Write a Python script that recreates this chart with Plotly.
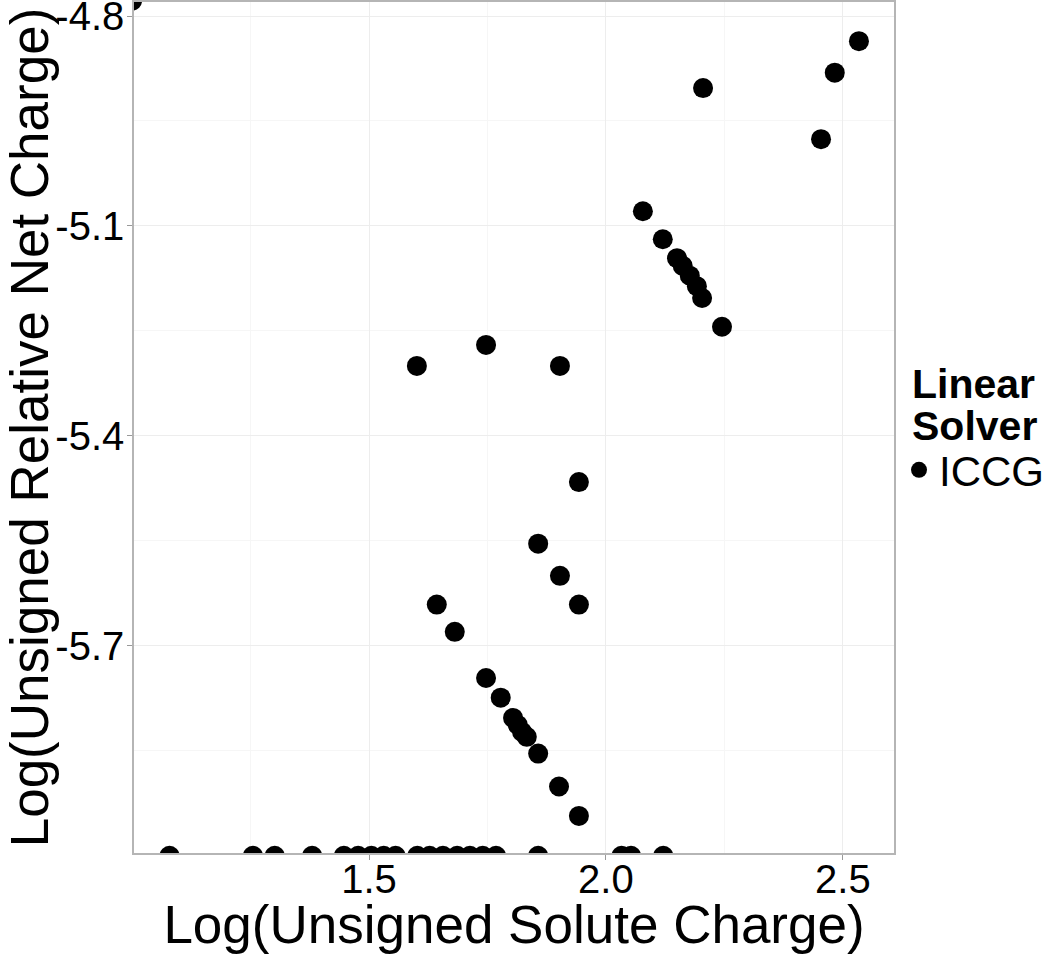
import plotly.graph_objects as go

# log10 of unsigned solute charge vs log10 of unsigned relative net charge
solute_charge = [
    1.0,
    2.534, 2.483, 2.205, 2.454,
    2.078, 2.120, 2.150, 2.162, 2.177, 2.192, 2.203, 2.245,
    1.601, 1.747, 1.903,
    1.943, 1.857, 1.903, 1.943,
    1.643, 1.681,
    1.747, 1.778, 1.804, 1.814, 1.823, 1.833, 1.857, 1.901, 1.943,
    1.079, 1.255, 1.301, 1.380, 1.447, 1.477, 1.505, 1.531, 1.556,
    1.602, 1.628, 1.656, 1.686, 1.713, 1.740, 1.768, 1.857,
    2.033, 2.053, 2.121,
]
relative_net_charge = [
    -4.778,
    -4.836, -4.881, -4.903, -4.976,
    -5.079, -5.119, -5.146, -5.157, -5.171, -5.186, -5.203, -5.244,
    -5.300, -5.270, -5.300,
    -5.466, -5.554, -5.600, -5.641,
    -5.641, -5.680,
    -5.746, -5.774, -5.803, -5.813, -5.823, -5.830, -5.854, -5.901, -5.943,
    -6.0, -6.0, -6.0, -6.0, -6.0, -6.0, -6.0, -6.0, -6.0,
    -6.0, -6.0, -6.0, -6.0, -6.0, -6.0, -6.0, -6.0,
    -6.0, -6.0, -6.0,
]

x_ticks = [1.5, 2.0, 2.5]
y_ticks = [-4.8, -5.1, -5.4, -5.7]
legend_title = ["Linear", "Solver"]

_FONT = "Liberation Sans, Arial, Helvetica, sans-serif"

fig = go.Figure()
fig.add_scatter(
    x=solute_charge, y=relative_net_charge, mode="markers", name="ICCG",
    marker=dict(color="black", size=20, line=dict(width=0)),
)

axis_common = dict(
    showline=True, linecolor="#b5b5b5", linewidth=1.5, mirror=True,
    ticks="outside", ticklen=5, tickcolor="#999999",
    gridcolor="#ededed", gridwidth=1, zeroline=False,
    tickfont=dict(size=40, color="black"),
    automargin=False, ticklabeloverflow="allow",
)
fig.update_xaxes(
    range=[1.004, 2.608], tickvals=x_ticks, ticktext=["1.5", "2.0", "2.5"],
    minor=dict(dtick=0.25, tick0=1.0, showgrid=True, gridcolor="#f6f6f6", ticks=""),
    title=dict(text="Log(Unsigned Solute Charge)", font=dict(size=53, color="black"), standoff=2),
    ticklabelstandoff=-15,
    **axis_common,
)
fig.update_yaxes(
    range=[-5.996, -4.78], tickvals=y_ticks, ticktext=["-4.8", "-5.1", "-5.4", "-5.7"],
    minor=dict(dtick=0.15, tick0=-4.8, showgrid=True, gridcolor="#f6f6f6", ticks=""),
    title=dict(text="Log(Unsigned Relative Net Charge)", font=dict(size=53, color="black"), standoff=0),
    ticklabelstandoff=-5,
    **axis_common,
)

# legend title drawn as two tight lines, like the ggplot guide title
for txt, ypos in zip(legend_title, [0.5511, 0.5018]):
    fig.add_annotation(
        text=f"<b>{txt}</b>", xref="paper", yref="paper", x=1.021, y=ypos,
        xanchor="left", yanchor="middle", showarrow=False,
        font=dict(size=41, color="black"),
    )

fig.update_layout(
    width=1050, height=954,
    margin=dict(l=134, r=156, t=2, b=101, autoexpand=False),
    paper_bgcolor="white", plot_bgcolor="white",
    font=dict(family=_FONT, color="black"),
    showlegend=True,
    legend=dict(
        x=1.0066, y=0.450, xanchor="left", yanchor="middle",
        font=dict(size=42), itemwidth=30, tracegroupgap=0,
        bgcolor="rgba(0,0,0,0)",
    ),
)

# drop the default body margin so the figure sits flush in the window
fig.write_html("out.html", config={"displayModeBar": False},
               post_script="document.body.style.margin='0';")
